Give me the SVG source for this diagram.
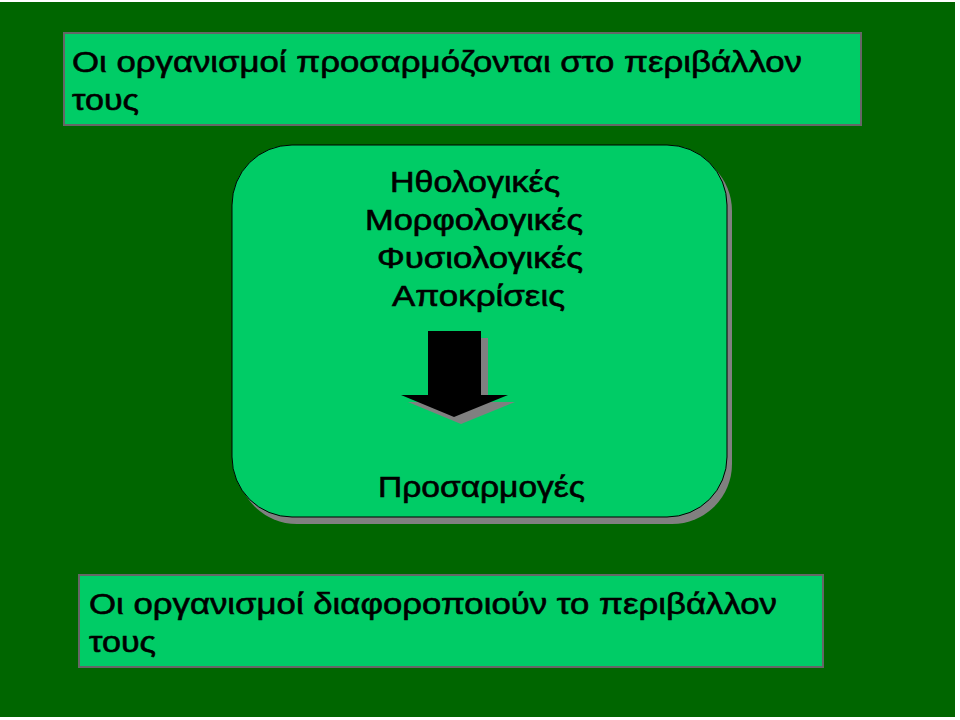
<svg xmlns="http://www.w3.org/2000/svg" width="960" height="720" viewBox="0 0 960 720">
<style>
.t{font-family:"Liberation Sans",Arial,sans-serif;fill:#000;stroke:#000;stroke-width:0.6}
.box{fill:#00CC66;stroke:#666666;stroke-width:2}
.sh{fill:#808080}
</style>
<rect x="0" y="0" width="960" height="720" fill="#ffffff"/>
<rect x="0" y="2" width="955" height="715" fill="#006600"/>
<g id="top-box">
<rect class="box" x="64" y="33" width="797" height="92"/>
<text class="t" x="72" y="72" font-size="30" textLength="730" lengthAdjust="spacingAndGlyphs">Οι οργανισμοί προσαρμόζονται στο περιβάλλον</text>
<text class="t" x="72" y="110" font-size="30" textLength="67" lengthAdjust="spacingAndGlyphs">τους</text>
</g>
<g id="middle-box">
<rect class="sh" x="237" y="151" width="495" height="373" rx="60" ry="60"/>
<rect x="232" y="145" width="495" height="372" rx="60" ry="60" fill="#00CC66" stroke="#000" stroke-width="1"/>
<text class="t" x="390" y="192" font-size="29" textLength="170" lengthAdjust="spacingAndGlyphs">Ηθολογικές</text>
<text class="t" x="365" y="230" font-size="29" textLength="218" lengthAdjust="spacingAndGlyphs">Μορφολογικές</text>
<text class="t" x="377" y="268" font-size="29" textLength="206" lengthAdjust="spacingAndGlyphs">Φυσιολογικές</text>
<text class="t" x="392" y="306" font-size="29" textLength="173" lengthAdjust="spacingAndGlyphs">Αποκρίσεις</text>
<text class="t" x="378" y="497" font-size="29" textLength="207" lengthAdjust="spacingAndGlyphs">Προσαρμογές</text>
</g>
<g id="connectors">
<polygon class="sh" points="435,338 488,338 488,402 515,402 461,424 408,402 435,402"/>
<polygon fill="#000" points="428,331 481,331 481,395 508,395 454,417 401,395 428,395"/>
</g>
<g id="bottom-box">
<rect class="box" x="79" y="575" width="744" height="92"/>
<text class="t" x="89" y="614" font-size="30" textLength="688" lengthAdjust="spacingAndGlyphs">Οι οργανισμοί διαφοροποιούν το περιβάλλον</text>
<text class="t" x="89" y="652" font-size="30" textLength="67" lengthAdjust="spacingAndGlyphs">τους</text>
</g>
</svg>
